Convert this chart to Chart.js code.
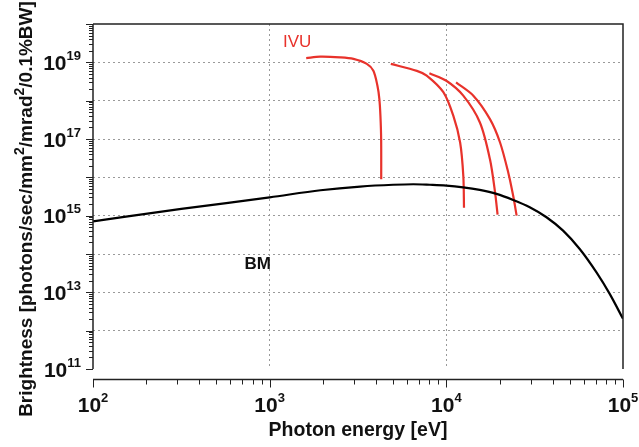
<!DOCTYPE html>
<html>
<head>
<meta charset="utf-8">
<script src="https://cdn.jsdelivr.net/npm/chart.js@4.4.1/dist/chart.umd.min.js"></script>
<style>
  html, body { margin: 0; padding: 0; background: #fff; }
  #wrap { width: 639px; height: 447px; }
</style>
</head>
<body>
<div id="wrap"><canvas id="brightChart" width="639" height="447"></canvas></div>
<script>
// photon energy [eV] / brightness
const bmEnergy = [100, 316, 1000, 1940, 3250, 5000, 6500, 8070, 10000, 12450, 15450, 19230, 23880, 29650, 36900, 45800, 56900, 70800, 84100, 100000];
const bmBrightness = [7.1e14, 1.5e15, 3.0e15, 4.6e15, 5.75e15, 6.4e15, 6.6e15, 6.4e15, 6.1e15, 5.5e15, 4.7e15, 3.7e15, 2.57e15, 1.66e15, 9.1e14, 4.07e14, 1.35e14, 3.3e13, 9.1e12, 2.04e12];

const ivu1Energy = [1610, 1930, 2510, 2980, 3548, 3864, 4074, 4178, 4236, 4276, 4280];
const ivu1Brightness = [1.29e19, 1.41e19, 1.35e19, 1.23e19, 9.1e18, 6.0e18, 2.45e18, 1.1e18, 4.0e17, 9.8e16, 8.9e15];

const ivu2Energy = [4850, 6810, 7740, 9620, 10960, 11970, 12480, 12590];
const ivu2Brightness = [9.1e18, 6.0e18, 4.5e18, 1.66e18, 4.0e17, 8.1e16, 1.07e16, 1.6e15];

const ivu3Energy = [8020, 10000, 12470, 15490, 17660, 18880, 19500];
const ivu3Brightness = [5.2e18, 3.3e18, 1.35e18, 2.7e17, 2.95e16, 4.0e15, 1.07e15];

const ivu4Energy = [11350, 14220, 17660, 20140, 22440, 23930, 25000];
const ivu4Brightness = [3.0e18, 1.35e18, 3.3e17, 8.1e16, 1.3e16, 3.2e15, 1.0e15];

const xDecades = [2, 3, 4, 5];
const yDecades = [11, 12, 13, 14, 15, 16, 17, 18, 19, 20];
const yLabelDecades = [11, 13, 15, 17, 19];

const FONT = '"Liberation Sans", Arial, Helvetica, sans-serif';
const RED = '#e8322b';

function toPoints(xs, ys) {
  return xs.map((x, i) => ({ x: x, y: ys[i] }));
}

function lineSet(xs, ys, color, monotone) {
  const ds = {
    data: toPoints(xs, ys),
    borderColor: color,
    borderWidth: 2.2,
    pointRadius: 0,
    fill: false
  };
  if (monotone) ds.cubicInterpolationMode = 'monotone';
  else ds.tension = 0.3;
  return ds;
}

function decadeTicks(list) {
  return list.map(d => ({ value: Math.pow(10, d) }));
}

// draws "10" with a raised exponent, the whole label centred/right aligned at x
function drawPower(ctx, exp, x, baseY, align) {
  ctx.font = 'bold 21px ' + FONT;
  const baseW = ctx.measureText('10').width;
  ctx.font = 'bold 13px ' + FONT;
  const supW = ctx.measureText(String(exp)).width;
  const total = baseW + supW;
  let left = align === 'right' ? x - total : x - total / 2;
  ctx.textAlign = 'left';
  ctx.textBaseline = 'alphabetic';
  ctx.font = 'bold 21px ' + FONT;
  ctx.fillText('10', left, baseY);
  ctx.font = 'bold 13px ' + FONT;
  ctx.fillText(String(exp), left + baseW, baseY - 10);
}

const axesPlugin = {
  id: 'axesPlugin',
  afterDraw(chart) {
    const ctx = chart.ctx;
    const area = chart.chartArea;
    const xs = chart.scales.x;
    const ys = chart.scales.y;
    const axisY = area.bottom + 10.5;
    ctx.save();

    // frame: top, right, left axis
    ctx.strokeStyle = '#222';
    ctx.lineWidth = 1.5;
    ctx.beginPath();
    ctx.moveTo(area.left, area.top);
    ctx.lineTo(area.right, area.top);
    ctx.lineTo(area.right, area.bottom);
    ctx.moveTo(area.left, area.top);
    ctx.lineTo(area.left, area.bottom);
    // detached x axis
    ctx.moveTo(area.left, axisY);
    ctx.lineTo(area.right, axisY);
    ctx.stroke();

    ctx.lineWidth = 1;
    ctx.beginPath();
    // y ticks
    yDecades.forEach(d => {
      const py = Math.round(ys.getPixelForValue(Math.pow(10, d))) + 0.5;
      ctx.moveTo(area.left, py);
      ctx.lineTo(area.left - 7, py);
      if (d < 20) {
        for (let m = 2; m <= 9; m++) {
          const my = Math.round(ys.getPixelForValue(m * Math.pow(10, d))) + 0.5;
          ctx.moveTo(area.left, my);
          ctx.lineTo(area.left - 4, my);
        }
      }
    });
    // x ticks
    xDecades.forEach(d => {
      const px = Math.round(xs.getPixelForValue(Math.pow(10, d))) + 0.5;
      ctx.moveTo(px, axisY);
      ctx.lineTo(px, axisY + 8);
      if (d < 5) {
        for (let m = 2; m <= 9; m++) {
          const mx = Math.round(xs.getPixelForValue(m * Math.pow(10, d))) + 0.5;
          ctx.moveTo(mx, axisY);
          ctx.lineTo(mx, axisY + 5);
        }
      }
    });
    ctx.stroke();

    ctx.fillStyle = '#111';
    yLabelDecades.forEach(d => {
      const py = ys.getPixelForValue(Math.pow(10, d));
      drawPower(ctx, d, area.left - 12, py + 7.5, 'right');
    });
    xDecades.forEach(d => {
      const px = xs.getPixelForValue(Math.pow(10, d));
      drawPower(ctx, d, px, axisY + 32.5, 'center');
    });

    // x title
    ctx.font = 'bold 19.5px ' + FONT;
    ctx.textAlign = 'center';
    ctx.fillText('Photon energy [eV]', (area.left + area.right) / 2, 436);

    // y title with superscripts
    const parts = [
      ['Brightness [photons/sec/mm', false],
      ['2', true],
      ['/mrad', false],
      ['2', true],
      ['/0.1%BW]', false]
    ];
    const mainFont = 'bold 19px ' + FONT;
    const supFont = 'bold 14px ' + FONT;
    let total = 0;
    parts.forEach(p => {
      ctx.font = p[1] ? supFont : mainFont;
      total += ctx.measureText(p[0]).width;
    });
    ctx.save();
    ctx.translate(31.5, 209);
    ctx.rotate(-Math.PI / 2);
    ctx.textAlign = 'left';
    let cx = -total / 2;
    parts.forEach(p => {
      ctx.font = p[1] ? supFont : mainFont;
      ctx.fillText(p[0], cx, p[1] ? -8 : 0);
      cx += ctx.measureText(p[0]).width;
    });
    ctx.restore();

    // curve labels
    ctx.textAlign = 'left';
    ctx.font = '17px ' + FONT;
    ctx.fillStyle = RED;
    ctx.fillText('IVU', xs.getPixelForValue(1190), ys.getPixelForValue(2.5e19));
    ctx.font = 'bold 17px ' + FONT;
    ctx.fillStyle = '#111';
    ctx.fillText('BM', xs.getPixelForValue(720), ys.getPixelForValue(4.1e13));

    ctx.restore();
  }
};

function initChart() {
  const ctx = document.getElementById('brightChart').getContext('2d');
  const gridOpts = {
    color: (c) => (c.index === 0 || c.index === c.scale.ticks.length - 1) ? 'rgba(0,0,0,0)' : '#9a9a9a',
    lineWidth: 1,
    drawTicks: false
  };
  new Chart(ctx, {
    type: 'line',
    data: {
      datasets: [
        lineSet(bmEnergy, bmBrightness, '#000', true),
        lineSet(ivu1Energy, ivu1Brightness, RED, false),
        lineSet(ivu2Energy, ivu2Brightness, RED, false),
        lineSet(ivu3Energy, ivu3Brightness, RED, false),
        lineSet(ivu4Energy, ivu4Brightness, RED, false)
      ]
    },
    options: {
      responsive: false,
      animation: false,
      devicePixelRatio: 1,
      layout: { padding: { left: 0, top: 24, right: 16, bottom: 0 } },
      scales: {
        x: {
          type: 'logarithmic',
          min: 100,
          max: 100000,
          afterBuildTicks: (s) => { s.ticks = decadeTicks(xDecades); },
          afterFit: (s) => { s.height = 78; },
          ticks: { display: false },
          grid: gridOpts,
          border: { display: false, dash: [2, 3] }
        },
        y: {
          type: 'logarithmic',
          min: 1e11,
          max: 1e20,
          afterBuildTicks: (s) => { s.ticks = decadeTicks(yDecades); },
          afterFit: (s) => { s.width = 93; },
          ticks: { display: false },
          grid: gridOpts,
          border: { display: false, dash: [2, 3] }
        }
      },
      plugins: {
        legend: { display: false },
        tooltip: { enabled: false }
      }
    },
    plugins: [axesPlugin]
  });
}

document.addEventListener('DOMContentLoaded', initChart);
</script>
</body>
</html>
